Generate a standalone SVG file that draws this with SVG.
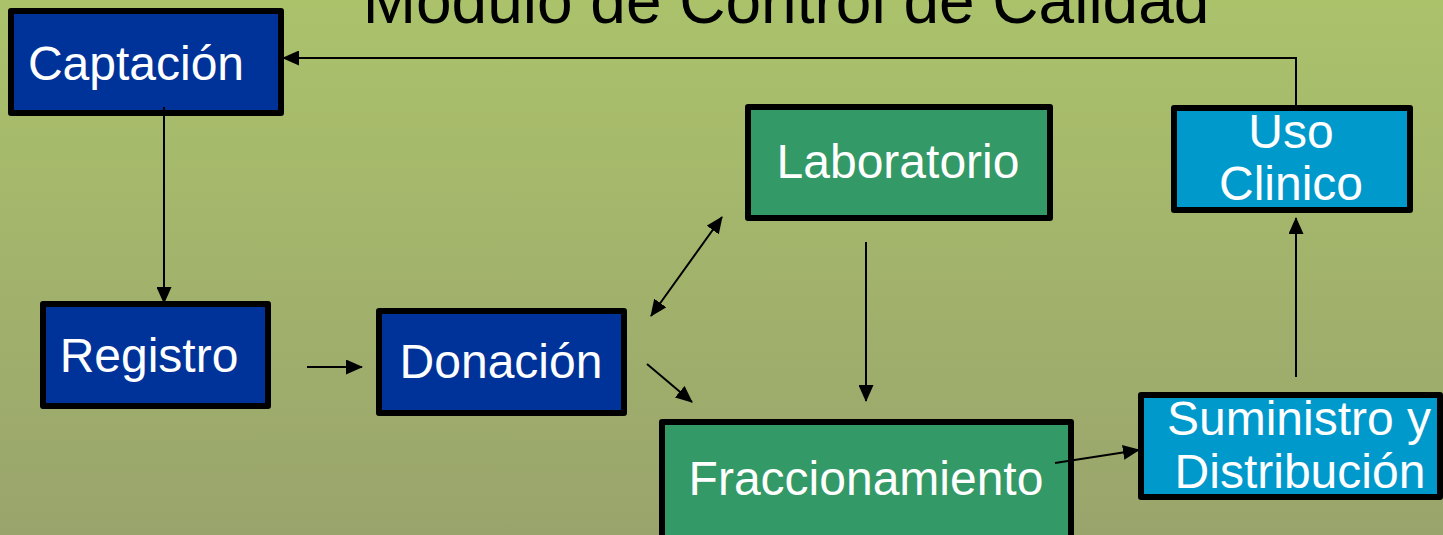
<svg xmlns="http://www.w3.org/2000/svg" width="1443" height="535" viewBox="0 0 1443 535">
<defs>
<linearGradient id="bg" x1="0" y1="0" x2="0" y2="1">
<stop offset="0" stop-color="#abc26b"/>
<stop offset="1" stop-color="#99a46c"/>
</linearGradient>
<marker id="ah" markerUnits="userSpaceOnUse" markerWidth="17" markerHeight="15" viewBox="0 0 17 15" refX="16" refY="7.5" orient="auto-start-reverse">
<path d="M0,0 L17,7.5 L0,15 z" fill="#000"/>
</marker>
</defs>
<style>
.box{stroke:#000;stroke-width:6;stroke-linejoin:round}
.blue{fill:#003399}
.green{fill:#339966}
.cyan{fill:#0099cc}
.lbl{font-family:"Liberation Sans",Arial,sans-serif;font-size:48px;fill:#fff}
.title{font-family:"Liberation Sans",Arial,sans-serif;font-size:64px;fill:#000}
.conn{fill:none;stroke:#000;stroke-width:2}
</style>
<rect x="0" y="0" width="1443" height="535" fill="url(#bg)"/>
<text class="title" x="786" y="23" text-anchor="middle">Modulo de Control de Calidad</text>
<g id="captacion">
<rect class="box blue" x="11" y="11" width="270" height="102"/>
<text class="lbl" x="136" y="80" text-anchor="middle">Captación</text>
</g>
<g id="registro">
<rect class="box blue" x="43" y="304" width="225" height="102"/>
<text class="lbl" x="149" y="372" text-anchor="middle">Registro</text>
</g>
<g id="donacion">
<rect class="box blue" x="379" y="311" width="245" height="102"/>
<text class="lbl" x="501" y="378" text-anchor="middle">Donación</text>
</g>
<g id="laboratorio">
<rect class="box green" x="748" y="107" width="302" height="111"/>
<text class="lbl" x="898" y="178" text-anchor="middle">Laboratorio</text>
</g>
<g id="fraccionamiento">
<rect class="box green" x="662" y="422" width="409" height="125"/>
<text class="lbl" x="866" y="495" text-anchor="middle">Fraccionamiento</text>
</g>
<g id="suministro">
<rect class="box cyan" x="1141" y="395" width="299" height="102"/>
<text class="lbl" x="1299" y="435" text-anchor="middle">Suministro y</text>
<text class="lbl" x="1300" y="488" text-anchor="middle">Distribución</text>
</g>
<g id="uso-clinico">
<rect class="box cyan" x="1174" y="108" width="236" height="102"/>
<text class="lbl" x="1291" y="148" text-anchor="middle">Uso</text>
<text class="lbl" x="1291" y="200" text-anchor="middle">Clinico</text>
</g>
<g id="connectors">
<path class="conn" d="M164,107 L164,303" marker-end="url(#ah)"/>
<path class="conn" d="M1296,105 L1296,58 L283,58" marker-end="url(#ah)"/>
<path class="conn" d="M307,367 L362,367" marker-end="url(#ah)"/>
<path class="conn" d="M651,316 L722,217" marker-start="url(#ah)" marker-end="url(#ah)"/>
<path class="conn" d="M647,364 L692,402" marker-end="url(#ah)"/>
<path class="conn" d="M866,242 L866,401" marker-end="url(#ah)"/>
<path class="conn" d="M1055,463 L1139,450" marker-end="url(#ah)"/>
<path class="conn" d="M1296,377 L1296,218" marker-end="url(#ah)"/>
</g>
</svg>
